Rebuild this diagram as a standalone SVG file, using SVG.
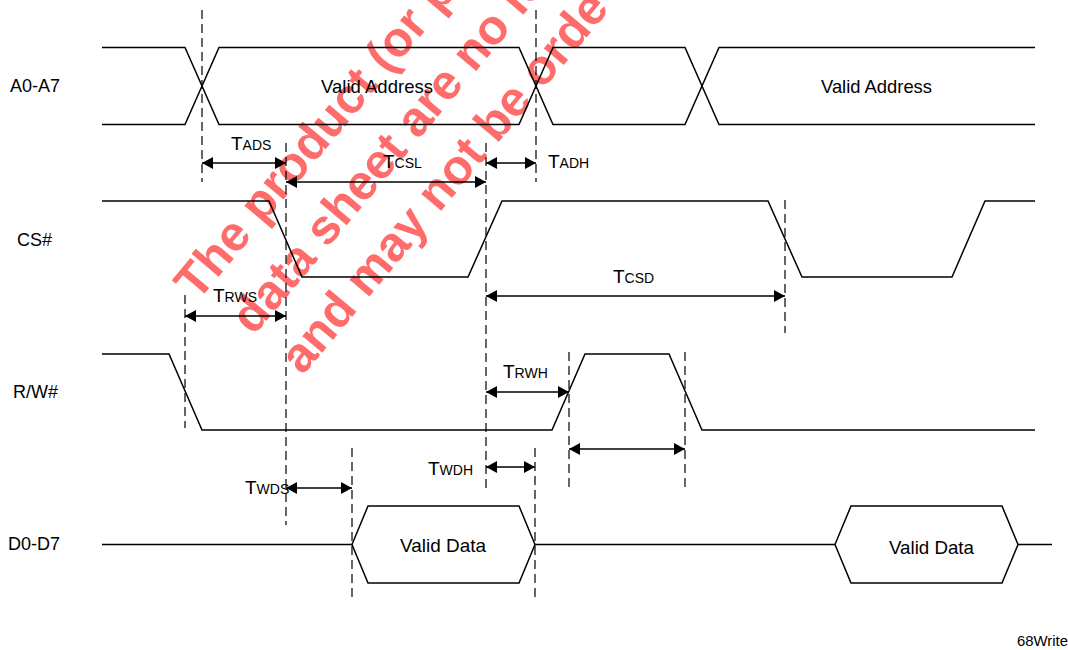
<svg xmlns="http://www.w3.org/2000/svg" width="1068" height="650" viewBox="0 0 1068 650">
<defs>
<style>
.wm{font-family:"Liberation Sans",Arial,sans-serif;font-weight:bold;font-size:49px;fill:#ff6c6c}
.sig{fill:none;stroke:#000;stroke-width:1.5}
.dash{fill:none;stroke:#000;stroke-width:1.2;stroke-dasharray:9,5}
.arr{fill:none;stroke:#000;stroke-width:1.5;marker-start:url(#ah);marker-end:url(#ah)}
.lbl{font-family:"Liberation Sans",Arial,sans-serif;font-size:18px;fill:#000}
.val{font-family:"Liberation Sans",Arial,sans-serif;font-size:19px;fill:#000}
.t{font-family:"Liberation Sans",Arial,sans-serif;font-size:19px;fill:#000}
.s{font-size:14px}
</style>
<marker id="ah" viewBox="0 0 11 12" refX="11" refY="6" markerWidth="11" markerHeight="12" markerUnits="userSpaceOnUse" orient="auto-start-reverse">
<path d="M0,0 L11,6 L0,12 Z" fill="#000"/>
</marker>
</defs>
<rect width="1068" height="650" fill="#fff"/>
<g id="watermark" transform="translate(197.3,302.2) rotate(-50)">
<text class="wm" x="0" y="0">The product (or p</text>
<text class="wm" x="10" y="65">data sheet are no lo</text>
<text class="wm" x="11" y="128">and may not be orde</text>
</g>
<g id="sig-a0a7">
<text class="lbl" x="10" y="92">A0-A7</text>
<path class="sig" d="M102,47.5 H185 L219,124.5 H519 L553,47.5 H685 L719,124.5 H1035"/>
<path class="sig" d="M102,124.5 H185 L219,47.5 H519 L553,124.5 H685 L719,47.5 H1035"/>
<text class="val" x="321" y="92.5" textLength="112" lengthAdjust="spacingAndGlyphs">Valid Address</text>
<text class="val" x="821" y="92.5" textLength="111" lengthAdjust="spacingAndGlyphs">Valid Address</text>
</g>
<g id="sig-cs">
<text class="lbl" x="17" y="246">CS#</text>
<path class="sig" d="M102,201 H269 L302,277 H468 L502,201 H768 L802,277 H952 L985,201 H1035"/>
</g>
<g id="sig-rw">
<text class="lbl" x="13" y="398">R/W#</text>
<path class="sig" d="M102,354 H169 L202,430 H552 L585,354 H669 L702,430 H1035"/>
</g>
<g id="sig-d0d7">
<text class="lbl" x="8" y="550">D0-D7</text>
<path class="sig" d="M102,544.5 H352 M535,544.5 H835 M1018,544.5 H1052"/>
<path class="sig" d="M352,544.5 L368,506 H519 L535,544.5 L519,583 H368 Z"/>
<path class="sig" d="M835,544.5 L851,506 H1002 L1018,544.5 L1002,583 H851 Z"/>
<text class="val" x="400" y="551.5" textLength="86" lengthAdjust="spacingAndGlyphs">Valid Data</text>
<text class="val" x="889" y="553.5" textLength="85" lengthAdjust="spacingAndGlyphs">Valid Data</text>
</g>
<g id="guides">
<path class="dash" d="M202,10 V182 M536,10 V182 M286,143 V525 M486,143 V488 M785,200 V333 M185,295 V428 M569,352 V487 M685,352 V487 M352,448 V600 M535,448 V600"/>
</g>
<g id="connectors">
<path class="arr" d="M202,163 H286"/>
<path class="arr" d="M286,182 H486"/>
<path class="arr" d="M486,163 H536"/>
<path class="arr" d="M185,316 H286"/>
<path class="arr" d="M486,296 H785"/>
<path class="arr" d="M486,392 H569"/>
<path class="arr" d="M569,449 H685"/>
<path class="arr" d="M486,467 H535"/>
<path class="arr" d="M286,488 H352"/>
</g>
<g id="timing-labels">
<text class="t" x="231" y="150">T<tspan class="s">ADS</tspan></text>
<text class="t" x="383" y="168">T<tspan class="s">CSL</tspan></text>
<text class="t" x="548" y="168">T<tspan class="s">ADH</tspan></text>
<text class="t" x="213" y="302">T<tspan class="s">RWS</tspan></text>
<text class="t" x="613" y="283">T<tspan class="s">CSD</tspan></text>
<text class="t" x="503" y="378">T<tspan class="s">RWH</tspan></text>
<text class="t" x="428" y="475">T<tspan class="s">WDH</tspan></text>
<text class="t" x="245" y="494">T<tspan class="s">WDS</tspan></text>
</g>
<text id="fig-name" class="lbl" x="1017" y="646" style="font-size:15px" textLength="51" lengthAdjust="spacingAndGlyphs">68Write</text>
</svg>
